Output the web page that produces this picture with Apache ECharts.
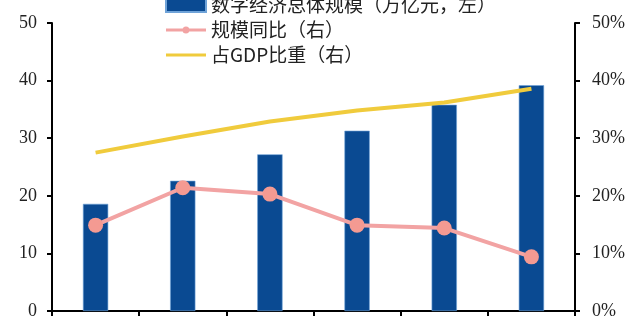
<!DOCTYPE html>
<html><head><meta charset="utf-8">
<script src="https://cdn.jsdelivr.net/npm/echarts@6/dist/echarts.min.js"></script>
<style>html,body{margin:0;padding:0;background:#fff}#c{width:640px;height:330px}</style>
</head><body><div id="c"></div>
<script>
const categories = ['2015','2016','2017','2018','2019','2020'];
const scaleValues = [18.6, 22.6, 27.2, 31.3, 35.8, 39.2];
const growthValues = [14.9, 21.4, 20.3, 14.9, 14.4, 9.4];
const gdpShareValues = [27.5, 30.3, 32.9, 34.8, 36.2, 38.6];
const leftTicks = [0, 10, 20, 30, 40, 50];
const rightTicks = ['0%', '10%', '20%', '30%', '40%', '50%'];
const seriesNames = ['数字经济总体规模（万亿元，左）', '规模同比（右）', '占GDP比重（右）'];

const chart = echarts.init(document.getElementById('c'));
const axisFont = {fontFamily: 'Liberation Serif', fontSize: 18, color: '#222'};
const lineIcon = 'path://M0,0 L0.01,0 L0,0.01 Z M0,14 L0.01,14 L0,13.99 Z M0,5.5 L40,5.5 L40,8.5 L0,8.5 Z';
const dotLineIcon = 'path://M0,0 L0.01,0 L0,0.01 Z M0,14 L0.01,14 L0,13.99 Z M0,5.5 L40,5.5 L40,8.5 L0,8.5 Z M20,3.5 A3.5,3.5 0 1 1 19.99,3.5 Z';
chart.setOption({
  animation: false,
  backgroundColor: '#fff',
  grid: {left: 52, right: 65, top: 23, bottom: 19},
  legend: {
    orient: 'vertical', left: 160, top: -10, itemWidth: 40, itemHeight: 14, itemGap: 5,
    textStyle: {fontFamily: 'Noto Sans CJK SC', fontSize: 19, color: '#222', lineHeight: 20},
    data: [
      {name: seriesNames[0], icon: 'rect'},
      {name: seriesNames[1], icon: dotLineIcon, itemStyle: {color: '#F2A3A3'}},
      {name: seriesNames[2], icon: lineIcon, itemStyle: {color: '#F0CB3C'}}
    ]
  },
  xAxis: {
    type: 'category', data: categories, boundaryGap: true,
    axisLine: {lineStyle: {color: '#000', width: 2}},
    axisTick: {show: true, length: 5, lineStyle: {color: '#000', width: 2}},
    axisLabel: {show: false}, splitLine: {show: false}
  },
  yAxis: [
    {type: 'value', min: 0, max: 50, interval: 10, position: 'left',
     axisLine: {show: true, lineStyle: {color: '#000', width: 2}},
     axisTick: {show: true, length: 5, lineStyle: {color: '#000', width: 2}},
     axisLabel: Object.assign({margin: 15, formatter: v => String(leftTicks[Math.round(v/10)])}, axisFont),
     splitLine: {show: false}},
    {type: 'value', min: 0, max: 50, interval: 10, position: 'right',
     axisLine: {show: true, lineStyle: {color: '#000', width: 2}},
     axisTick: {show: true, length: 5, lineStyle: {color: '#000', width: 2}},
     axisLabel: Object.assign({margin: 17, formatter: v => rightTicks[Math.round(v/10)]}, axisFont),
     splitLine: {show: false}}
  ],
  series: [
    {name: seriesNames[0], type: 'bar', yAxisIndex: 0, data: scaleValues, barWidth: '29%',
     itemStyle: {color: '#0A4A92', borderColor: '#6FA3D8', borderWidth: 0.6}},
    {name: seriesNames[1], type: 'line', yAxisIndex: 1, data: growthValues,
     symbol: 'circle', symbolSize: 15,
     lineStyle: {color: '#F2A3A3', width: 4}, itemStyle: {color: '#F49A92'}},
    {name: seriesNames[2], type: 'line', yAxisIndex: 1, data: gdpShareValues,
     symbol: 'none', smooth: false,
     lineStyle: {color: '#F0CB3C', width: 4}, itemStyle: {color: '#F0CB3C'}}
  ]
});
</script></body></html>
